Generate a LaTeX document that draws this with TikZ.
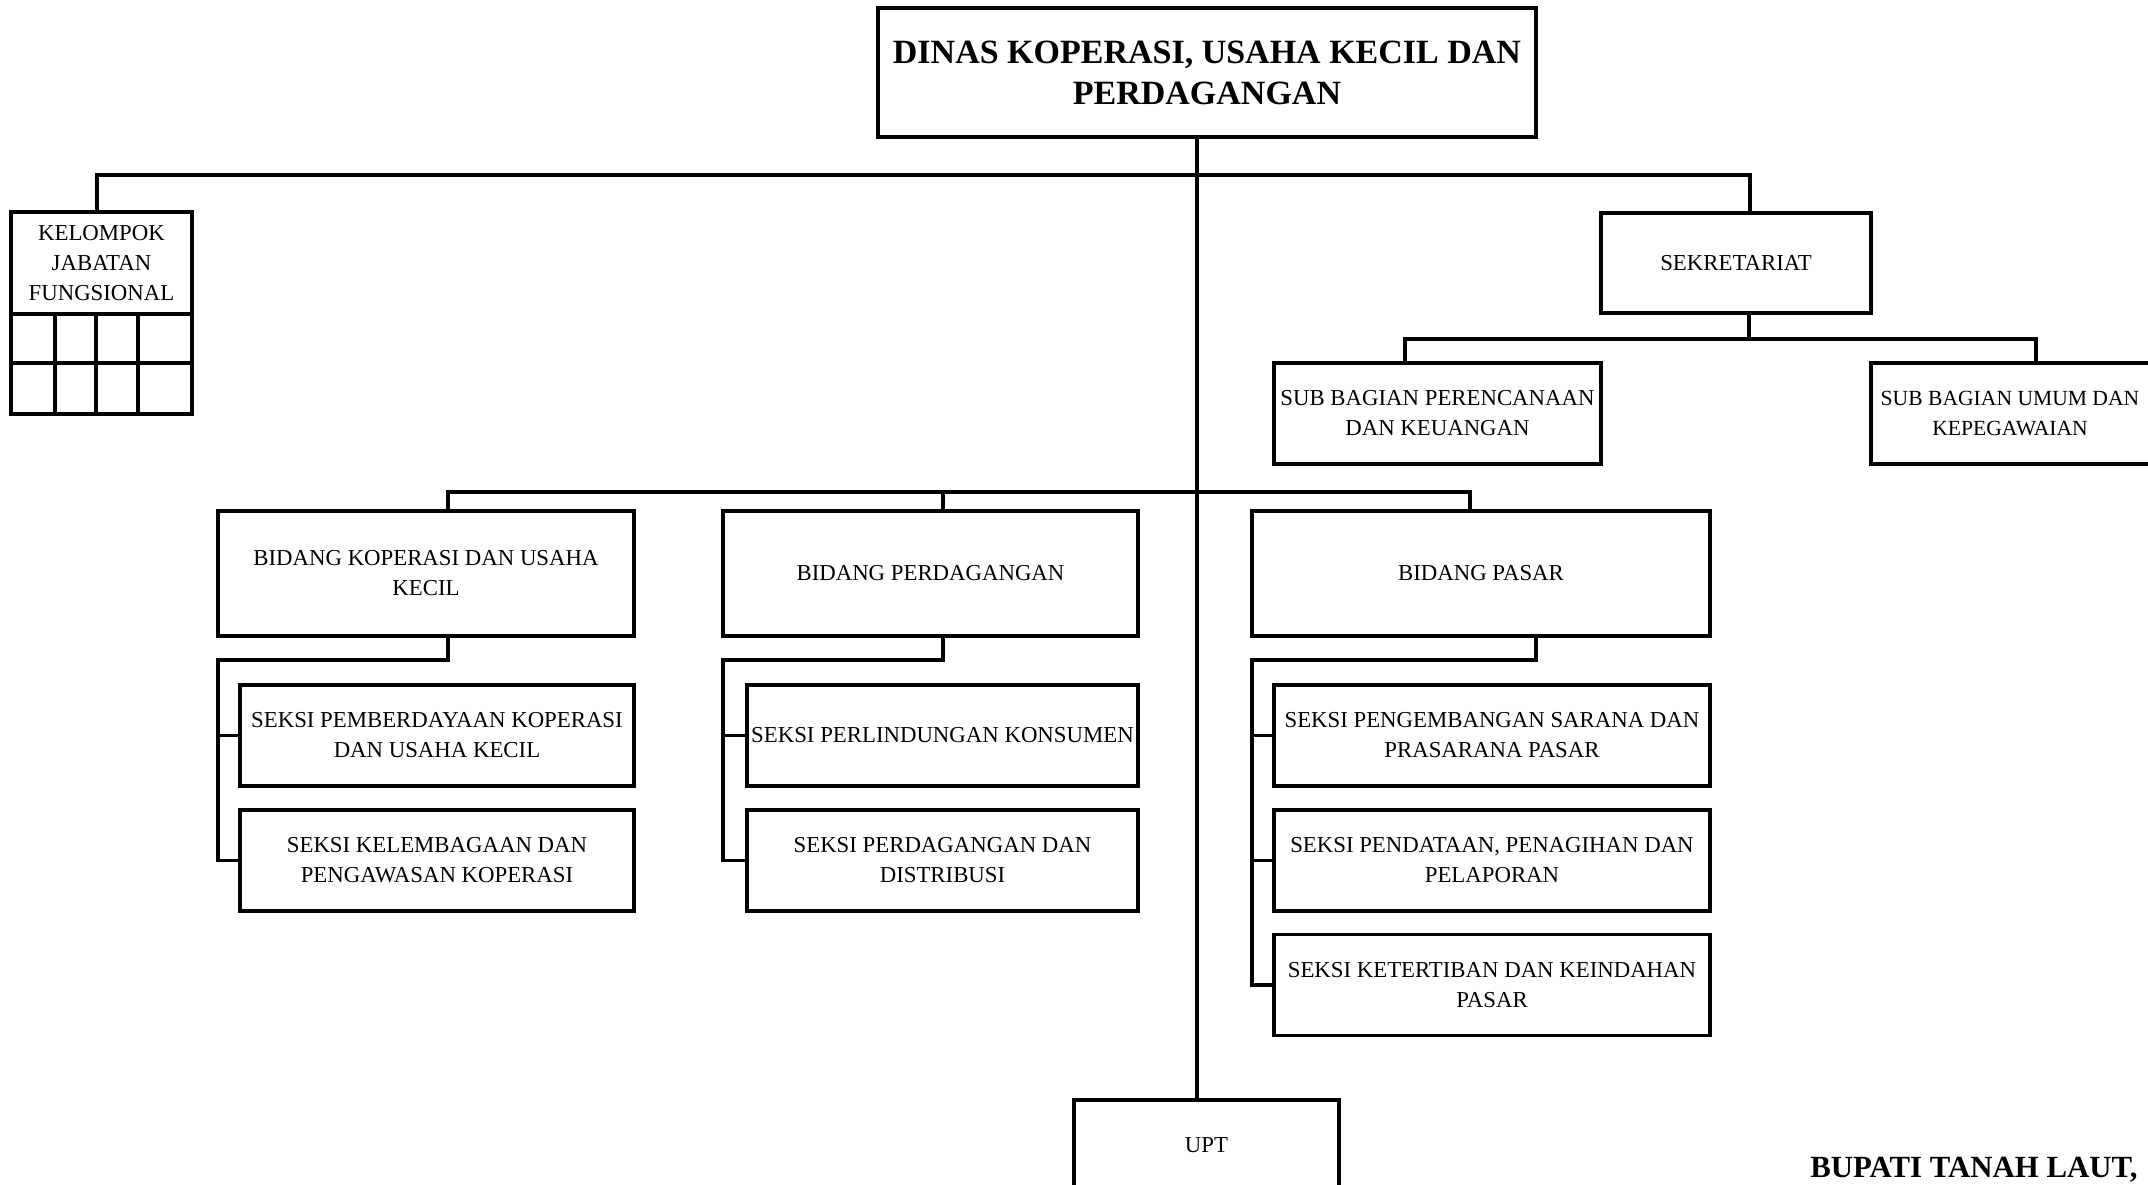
\documentclass[tikz,border=0pt]{standalone}
\usepackage{fontspec}
\setmainfont{Liberation Serif}
\begin{document}
\begin{tikzpicture}[x=0.5pt,y=-0.5pt,
  box/.style={draw, line width=1.6pt, rectangle, inner sep=0pt, align=center,
    font=\fontsize{11.4}{15}\selectfont},
  bx/.style 2 args={minimum width=#1*0.5pt, minimum height=#2*0.5pt},
  conn/.style={line width=1.6pt},
  bigbold/.style={font=\fontsize{17}{20.5}\selectfont\bfseries}]
\useasboundingbox (0,0) rectangle (2148,1184);

% nodes
\node[box, bx={658}{129}, bigbold] (title) at (1207,72.5) {DINAS KOPERASI, USAHA KECIL DAN\\PERDAGANGAN};
\node[box, bx={181}{102}] (kjf) at (101.5,263) {KELOMPOK\\JABATAN\\FUNGSIONAL};
\node[box, bx={270}{100}] (sek) at (1736,263) {SEKRETARIAT};
\node[box, bx={327}{101}] (sbp) at (1437.5,413.5) {SUB BAGIAN PERENCANAAN\\DAN KEUANGAN};
\node[box, bx={330}{101}] (sbu) at (2036,413.5) {};
\node[align=center, inner sep=0pt, font=\fontsize{10.8}{15}\selectfont] (sbutext) at (2010,413.5) {SUB BAGIAN UMUM DAN\\KEPEGAWAIAN};

\node[box, bx={416}{125}] (bk) at (426,573.5) {BIDANG KOPERASI DAN USAHA\\KECIL};
\node[box, bx={415}{125}] (bpd) at (930.5,573.5) {BIDANG PERDAGANGAN};
\node[box, bx={458}{125}] (bps) at (1481,573.5) {BIDANG PASAR};

\node[box, bx={394}{101}] (s11) at (437,735.5) {SEKSI PEMBERDAYAAN KOPERASI\\DAN USAHA KECIL};
\node[box, bx={394}{101}] (s12) at (437,860.5) {SEKSI KELEMBAGAAN DAN\\PENGAWASAN KOPERASI};
\node[box, bx={391}{101}] (s21) at (942.5,735.5) {SEKSI PERLINDUNGAN KONSUMEN};
\node[box, bx={391}{101}] (s22) at (942.5,860.5) {SEKSI PERDAGANGAN DAN\\DISTRIBUSI};
\node[box, bx={436}{101}] (s31) at (1492,735.5) {SEKSI PENGEMBANGAN SARANA DAN\\PRASARANA PASAR};
\node[box, bx={436}{101}] (s32) at (1492,860.5) {SEKSI PENDATAAN, PENAGIHAN DAN\\PELAPORAN};
\node[box, bx={436}{101}] (s33) at (1492,985) {SEKSI KETERTIBAN DAN KEINDAHAN\\PASAR};

\node[box, bx={265}{90}] (upt) at (1206.5,1145) {UPT};
\node[anchor=base west, inner sep=0pt, font=\fontsize{15.4}{19}\selectfont\bfseries] (bupati) at (1810,1177) {BUPATI TANAH LAUT,};

% grid under KELOMPOK JABATAN FUNGSIONAL
\draw[line width=1.6pt] (11,314) rectangle (192,414);
\draw[line width=1.6pt] (11,363) -- (192,363);
\foreach \gx in {55,96,138} \draw[line width=1.6pt] (\gx,314) -- (\gx,414);

% coordinates for connectors
\coordinate (sp) at (1197,175);
\coordinate (hL) at (97,175);
\coordinate (hR) at (1750,175);
\coordinate (sekbar) at (1749,339);
\coordinate (sbL) at (1405,339);
\coordinate (sbR) at (2036,339);
\coordinate (bbL) at (448,492);
\coordinate (bbM) at (943,492);
\coordinate (bbR) at (1470,492);
\coordinate (k1) at (448,660);
\coordinate (k2) at (218,660);
\coordinate (p1) at (943,660);
\coordinate (p2) at (723,660);
\coordinate (q1) at (1536,660);
\coordinate (q2) at (1252,660);

% spine
\draw[conn] (title.south -| sp) -- (upt.north -| sp);
% top bar
\draw[conn] (kjf.north -| hL) -- (hL) -- (hR) -- (sek.north -| hR);
% secretariat
\draw[conn] (sek.south -| sekbar) -- (sekbar);
\draw[conn] (sbp.north -| sbL) -- (sbL) -- (sbR) -- (sbu.north -| sbR);
% bidang bar
\draw[conn] (bk.north -| bbL) -- (bbL) -- (bbR) -- (bps.north -| bbR);
\draw[conn] (bbM) -- (bpd.north -| bbM);
% koperasi branch
\draw[conn] (bk.south -| k1) -- (k1) -- (k2) -- (s12.west -| k2) -- (s12.west);
\draw[conn] (s11.west -| k2) -- (s11.west);
% perdagangan branch
\draw[conn] (bpd.south -| p1) -- (p1) -- (p2) -- (s22.west -| p2) -- (s22.west);
\draw[conn] (s21.west -| p2) -- (s21.west);
% pasar branch
\draw[conn] (bps.south -| q1) -- (q1) -- (q2) -- (s33.west -| q2) -- (s33.west);
\draw[conn] (s31.west -| q2) -- (s31.west);
\draw[conn] (s32.west -| q2) -- (s32.west);
\end{tikzpicture}
\end{document}
